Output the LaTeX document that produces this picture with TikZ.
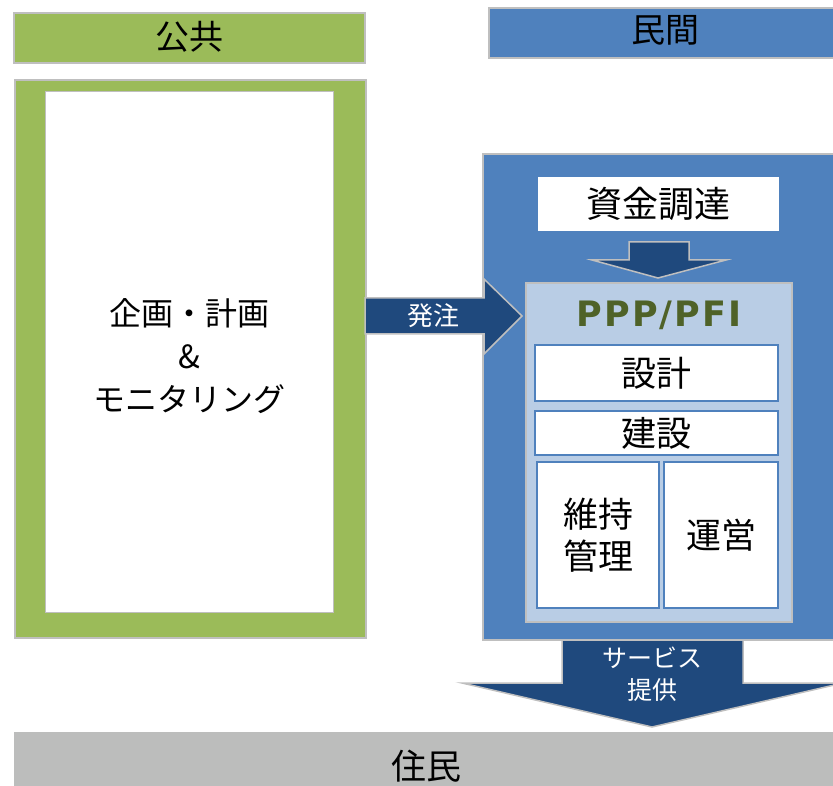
\documentclass[tikz,border=0pt]{standalone}
\usepackage{fontspec}
\setmainfont{Noto Sans CJK JP}
\newfontfamily\pppfont[LetterSpace=6]{DejaVu Sans}
\definecolor{pubgreen}{HTML}{9BBB59}
\definecolor{privblue}{HTML}{4F81BD}
\definecolor{darkblue}{HTML}{1F497D}
\definecolor{lightblue}{HTML}{B9CDE5}
\definecolor{grayb}{HTML}{BFBFBF}
\definecolor{barGray}{HTML}{BCBDBC}
\definecolor{olive}{HTML}{4F6228}
\begin{document}
\begin{tikzpicture}[x=1pt,y=-1pt,
  box/.style={anchor=north west, inner sep=0pt, outer sep=0pt},
  grayedge/.style={draw=grayb, line width=1.5pt},
  whitebox/.style={box, fill=white, draw=privblue, line width=2pt},
  bigarrow/.style={fill=darkblue, draw=grayb, line width=1.5pt, line join=miter},
  jp/.style={font=\fontsize{#1}{#1}\selectfont},
  wtext/.style={text=white, align=center, font=\fontsize{25}{32}\selectfont}
]
\useasboundingbox (0,0) rectangle (833,786);
% headers
\node[box, grayedge, fill=pubgreen, minimum width=351pt, minimum height=50pt] (pubhdr) at (14,13) {};
\node[jp=34] (pubtxt) at ([yshift=1pt]pubhdr.center) {公共};
\node[box, grayedge, fill=privblue, minimum width=352pt, minimum height=50pt] (privhdr) at (489,8) {};
\node[jp=34] (privtxt) at ([yshift=3pt]privhdr.center) {民間};
% public frame
\node[box, grayedge, fill=pubgreen, minimum width=351pt, minimum height=558pt] (pubframe) at (15,80) {};
\node[box, draw=grayb, line width=1pt, fill=white, minimum width=288pt, minimum height=520pt] (pubinner) at (45,92) {};
\node[align=center, font=\fontsize{32}{43}\selectfont] (plan) at ([yshift=-4pt]pubinner.center) {企画・計画\\\&\\モニタリング};
% private frame
\node[box, grayedge, fill=privblue, minimum width=362pt, minimum height=486pt] (privframe) at (483,154) {};
\node[box, fill=white, minimum width=241pt, minimum height=54pt] (fund) at (538,177) {};
\node[jp=36] (fundtxt) at (fund.center) {資金調達};
% down arrow
\draw[bigarrow] (629,242) -- (689,242) -- (689,260) -- (726,260) -- (658,278) -- (592,260) -- (629,260) -- cycle;
% PPP box
\node[box, grayedge, fill=lightblue, minimum width=266pt, minimum height=339pt] (ppp) at (526,283) {};
\node[text=olive, font=\pppfont\bfseries\fontsize{35}{35}\selectfont] (ppptxt) at (659,315) {PPP/PFI};
\node[whitebox, minimum width=243pt, minimum height=56pt] (design) at (535,345) {};
\node[jp=35] (designtxt) at (design.center) {設計};
\node[whitebox, minimum width=243pt, minimum height=44pt] (build) at (535,411) {};
\node[jp=35] (buildtxt) at (build.center) {建設};
\node[whitebox, minimum width=122pt, minimum height=146pt] (maint) at (537,462) {};
\node[align=center, font=\fontsize{35}{42}\selectfont] (mainttxt) at (maint.center) {維持\\管理};
\node[whitebox, minimum width=114pt, minimum height=146pt] (oper) at (664,462) {};
\node[jp=35] (opertxt) at (oper.center) {運営};
% order arrow
\draw[bigarrow] (365,298) -- (484,298) -- (484,279) -- (522,316) -- (484,354) -- (484,334) -- (365,334) -- cycle;
\node[wtext, font=\fontsize{26}{26}\selectfont] (order) at (433,316) {発注};
% service arrow
\draw[bigarrow] (562,640) -- (743,640) -- (743,683) -- (843,683) -- (652,727) -- (462,683) -- (562,683) -- cycle;
\node[wtext] (service) at (652,674) {サービス\\提供};
% residents bar
\node[box, fill=barGray, minimum width=830pt, minimum height=60pt] (res) at (14,732) {};
\node[jp=35] (restxt) at (426,766) {住民};
\end{tikzpicture}
\end{document}
